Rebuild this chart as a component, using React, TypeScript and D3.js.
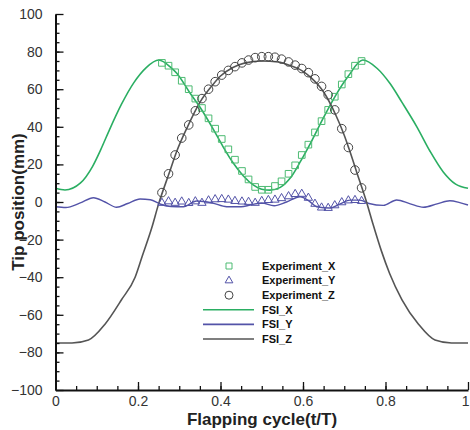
import React, { useEffect, useRef } from 'react';
import * as d3 from 'd3';

// FSI_X (green line)
const fsiXT = [0, 0.023, 0.06, 0.09, 0.11, 0.13, 0.16, 0.19, 0.22, 0.25, 0.28, 0.294, 0.326, 0.35, 0.383, 0.406, 0.43, 0.455, 0.48, 0.5, 0.52, 0.545, 0.57, 0.595, 0.62, 0.65, 0.68, 0.71, 0.745, 0.78, 0.811, 0.84, 0.876, 0.908, 0.94, 0.97, 1];
const fsiXV = [7.3, 6.4, 10, 19, 28, 38, 52, 63.5, 71.5, 75.5, 71.5, 68.5, 58, 50.5, 38.5, 29.5, 21, 14, 9, 6.8, 6.3, 7.8, 13, 22, 32, 45, 57, 67, 75.5, 71, 63, 53, 40, 27, 16, 9.5, 7.3];

// FSI_Y (blue line)
const fsiYT = [0, 0.025, 0.06, 0.092, 0.12, 0.148, 0.175, 0.205, 0.23, 0.255, 0.28, 0.31, 0.342, 0.38, 0.415, 0.45, 0.472, 0.5, 0.53, 0.56, 0.593, 0.615, 0.633, 0.665, 0.69, 0.714, 0.738, 0.76, 0.795, 0.827, 0.86, 0.892, 0.925, 0.956, 0.98, 1];
const fsiYV = [-2.5, -2.9, -0.5, 2.3, 0, -2.8, -0.8, 1.6, 1.2, -1.2, -2.4, -2.5, 0.5, -0.5, -2.5, -2.5, -1.6, -0.5, -2, 0, 2.8, 0.5, -2.5, -3.2, -1, 1, 1, -0.8, -1.8, 1.1, -1, -2.8, -1, 0.7, -0.3, -1.6];

// FSI_Z (gray line)
const fsiZT = [0, 0.04, 0.08, 0.12, 0.16, 0.193, 0.21, 0.233, 0.25, 0.275, 0.294, 0.32, 0.35, 0.38, 0.4, 0.43, 0.46, 0.5, 0.54, 0.57, 0.6, 0.62, 0.65, 0.68, 0.7, 0.712, 0.73, 0.754, 0.77, 0.79, 0.81, 0.84, 0.88, 0.92, 0.96, 1];
const fsiZV = [-75, -75, -73.4, -65, -52, -40, -29, -14, -1, 15, 27, 40, 53, 62, 67, 71.5, 74, 75, 74.5, 72.5, 69.5, 66, 58.5, 46, 35.5, 28, 16, 0, -12, -26, -38, -52, -65, -73.4, -75, -75];

// Experiment samples
const expT = [0.258, 0.274, 0.29, 0.306, 0.323, 0.339, 0.355, 0.371, 0.387, 0.403, 0.419, 0.435, 0.452, 0.468, 0.484, 0.5, 0.516, 0.532, 0.548, 0.565, 0.581, 0.597, 0.613, 0.629, 0.645, 0.661, 0.677, 0.694, 0.71, 0.726, 0.742];
const expX = [74, 72.5, 69, 64.5, 60, 55, 50, 44.5, 39, 33.5, 28, 22.5, 16.5, 12, 8, 6.5, 6.5, 8.5, 11, 15, 19.5, 25, 30.5, 37, 43, 49, 56, 62.5, 68, 72.5, 75];
const expY = [-0.5, 0.3, -0.5, 0.2, -0.6, 0.3, -0.5, 0.8, 1.4, 1.5, 1.2, 0.5, 0.2, 0, -0.5, 0.5, 1, 1.2, 2, 3, 4.2, 4.3, 2.2, -1, -3, -3.2, -1.8, -0.2, 0.8, 1, 0.5];
const expZ = [5, 15, 25, 34, 41, 48.5, 55, 60, 64, 67.5, 70, 72, 74, 75.5, 76.8, 77.3, 77.3, 77, 76, 74.5, 72.8, 71, 68.8, 65.5, 61.5, 57, 49, 39, 29, 17, 7.5];

const xTicks = [0, 0.2, 0.4, 0.6, 0.8, 1];
const yTicks = [-100, -80, -60, -40, -20, 0, 20, 40, 60, 80, 100];

const legendNames = ['Experiment_X', 'Experiment_Y', 'Experiment_Z', 'FSI_X', 'FSI_Y', 'FSI_Z'];

const GREEN = '#2aae62';
const GREEN_M = '#4dbb72';
const BLUE = '#5353a8';
const GRAY = '#555555';

const W = 470;
const H = 430;
const FONT = '"Liberation Sans", Arial, sans-serif';

const App = () => {
  const svgRef = useRef(null);

  useEffect(() => {
    const svg = d3.select(svgRef.current);
    svg.selectAll('*').remove();

    const x = d3.scaleLinear().domain([0, 1]).range([55.5, 468]);
    const y = d3.scaleLinear().domain([-100, 100]).range([390, 14]);

    const line = d3.line()
      .x((d) => x(d[0]))
      .y((d) => y(d[1]))
      .curve(d3.curveMonotoneX);

    const zip = (ts, vs) => ts.map((t, i) => [t, vs[i]]);

    // curves
    svg.append('path').datum(zip(fsiXT, fsiXV))
      .attr('fill', 'none').attr('stroke', GREEN).attr('stroke-width', 1.6).attr('d', line);
    svg.append('path').datum(zip(fsiYT, fsiYV))
      .attr('fill', 'none').attr('stroke', BLUE).attr('stroke-width', 1.4).attr('d', line);
    svg.append('path').datum(zip(fsiZT, fsiZV))
      .attr('fill', 'none').attr('stroke', GRAY).attr('stroke-width', 1.6).attr('d', line);

    // experiment markers
    const squares = d3.symbol().type(d3.symbolSquare).size(44);
    const tris = d3.symbol().type(d3.symbolTriangle).size(30);
    svg.append('g').selectAll('path').data(zip(expT, expX)).join('path')
      .attr('d', squares)
      .attr('transform', (d) => `translate(${x(d[0])},${y(d[1])})`)
      .attr('fill', 'none').attr('stroke', GREEN_M).attr('stroke-width', 1);
    svg.append('g').selectAll('path').data(zip(expT, expY)).join('path')
      .attr('d', tris)
      .attr('transform', (d) => `translate(${x(d[0])},${y(d[1])})`)
      .attr('fill', 'none').attr('stroke', BLUE).attr('stroke-width', 1);
    svg.append('g').selectAll('circle').data(zip(expT, expZ)).join('circle')
      .attr('cx', (d) => x(d[0])).attr('cy', (d) => y(d[1])).attr('r', 4.3)
      .attr('fill', 'none').attr('stroke', '#444').attr('stroke-width', 1);

    // axes
    const xAxis = svg.append('g').attr('transform', 'translate(0,390)')
      .call(d3.axisBottom(x).tickValues(xTicks).tickSize(-8).tickSizeOuter(0).tickPadding(6)
        .tickFormat((d) => String(d)));
    svg.append('g').attr('transform', 'translate(0,390)')
      .call(d3.axisBottom(x).tickValues(d3.range(0.05, 1, 0.05)).tickSize(-4).tickSizeOuter(0).tickFormat(() => ''))
      .call((g) => g.select('.domain').remove());
    const yAxis = svg.append('g').attr('transform', 'translate(55.5,0)')
      .call(d3.axisLeft(y).tickValues(yTicks).tickSize(-8).tickSizeOuter(0).tickPadding(13));
    svg.append('g').attr('transform', 'translate(55.5,0)')
      .call(d3.axisLeft(y).tickValues(d3.range(-95, 100, 5)).tickSize(-4).tickSizeOuter(0).tickFormat(() => ''))
      .call((g) => g.select('.domain').remove());

    [xAxis, yAxis].forEach((g) => {
      g.select('.domain').attr('stroke', '#111').attr('stroke-width', 2);
      g.selectAll('text').attr('font-family', FONT).attr('font-size', 14).attr('fill', '#333');
    });
    // keep the "1" label inside the picture
    xAxis.selectAll('.tick text').filter((d) => d === 1).attr('text-anchor', 'end').attr('dx', 1);
    svg.selectAll('.tick line').attr('stroke', '#111').attr('stroke-width', 1.3);

    // axis titles
    svg.append('text').attr('x', 262).attr('y', 425).attr('text-anchor', 'middle')
      .attr('font-family', FONT).attr('font-size', 17).attr('font-weight', 'bold').attr('fill', '#222')
      .text('Flapping cycle(t/T)');
    svg.append('text').attr('transform', 'translate(24,202) rotate(-90)').attr('text-anchor', 'middle')
      .attr('font-family', FONT).attr('font-size', 17).attr('font-weight', 'bold').attr('fill', '#222')
      .text('Tip position(mm)');

    // legend
    const lg = svg.append('g');
    const rowY = (i) => 266 + i * 14.6;
    lg.append('path').attr('d', d3.symbol().type(d3.symbolSquare).size(36)).attr('transform', `translate(229,${rowY(0)})`)
      .attr('fill', 'none').attr('stroke', GREEN_M);
    lg.append('path').attr('d', d3.symbol().type(d3.symbolTriangle).size(26)).attr('transform', `translate(229,${rowY(1)})`)
      .attr('fill', 'none').attr('stroke', BLUE);
    lg.append('circle').attr('cx', 229).attr('cy', rowY(2)).attr('r', 4)
      .attr('fill', 'none').attr('stroke', '#444');
    [GREEN, BLUE, GRAY].forEach((c, i) => {
      lg.append('line').attr('x1', 203).attr('x2', 254).attr('y1', rowY(3 + i)).attr('y2', rowY(3 + i))
        .attr('stroke', c).attr('stroke-width', 1.6);
    });
    legendNames.forEach((name, i) => {
      lg.append('text').attr('x', 262).attr('y', rowY(i)).attr('dy', '0.35em')
        .attr('font-family', FONT).attr('font-size', 11).attr('font-weight', 'bold').attr('fill', '#111')
        .text(name);
    });
  }, []);

  return <svg ref={svgRef} width={W} height={H} style={{ position: 'absolute', left: 0, top: 0, background: '#fff' }}></svg>;
};

export default App;
